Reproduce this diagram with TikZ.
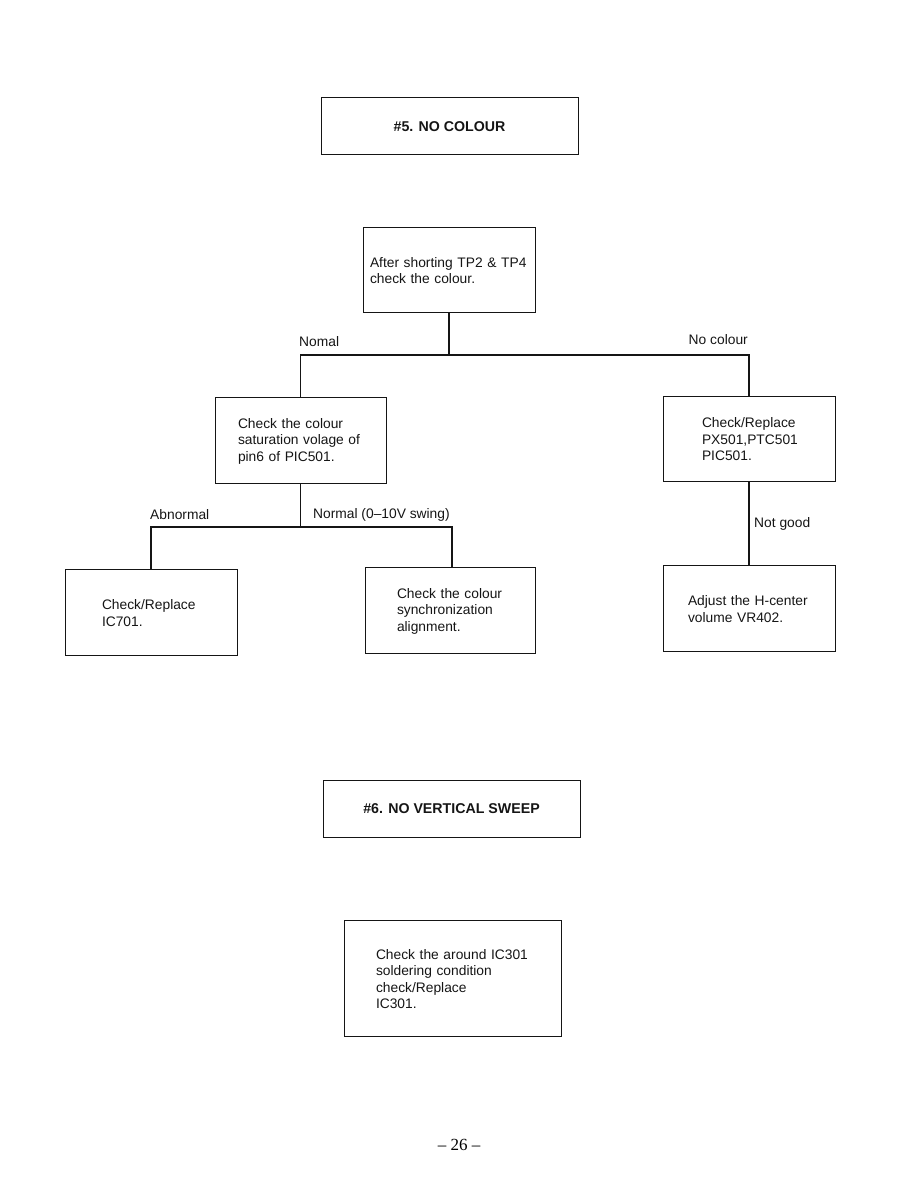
\documentclass[tikz,border=0pt]{standalone}
\usepackage{fontspec}
\setmainfont{Liberation Sans}
\newfontfamily\pagefont[Ligatures=TeX]{Liberation Serif}
\usetikzlibrary{positioning}
\definecolor{ncInk}{HTML}{151515}
\newcommand{\ncbody}{\fontsize{13.8}{16.5}\selectfont}
\tikzset{
  nc title/.style={draw=ncInk, line width=1pt, minimum width=257, minimum height=57, inner sep=0pt, font=\fontsize{14.2}{17}\selectfont\bfseries, text=ncInk},
  nc box/.style={draw=ncInk, line width=1pt, minimum height=86, inner ysep=0pt, align=left, font=\ncbody, text=ncInk},
  nc link/.style={draw=ncInk, line width=1.3pt},
  nc label/.style={inner sep=0pt, font=\ncbody, text=ncInk},
}

\begin{document}
\begin{tikzpicture}[x=1pt, y=1pt]
  \useasboundingbox (0,0) rectangle (918,1188);
  % #5 title
  \node[nc title] (title5) at (449.5,1061.5) {\#5. NO COLOUR};
  % first check
  \node[nc box, minimum height=85, text width=158, inner xsep=7] (tp) at (449,917.5)
    {After shorting TP2 \& TP4\\check the colour.};
  % second row
  \node[nc box, text width=125, inner xsep=23] (sat) at (300.5,747)
    {Check the colour\\saturation volage of\\pin6 of PIC501.};
  \node[nc box, minimum height=85, text width=94, inner xsep=39] (px) at (749,748.5)
    {Check/Replace\\PX501,PTC501\\PIC501.};
  % third row
  \node[nc box, text width=98, inner xsep=37] (ic) at (151,575)
    {Check/Replace\\IC701.};
  \node[nc box, text width=106, inner xsep=32] (sync) at (450,577)
    {Check the colour\\synchronization\\alignment.};
  \node[nc box, text width=122, inner xsep=25] (hc) at (749,579)
    {Adjust the H-center\\volume VR402.};
  % connectors
  \coordinate (splitTp) at (449,833);
  \coordinate (splitSat) at (300.5,661);
  \draw[nc link] (tp.south) -- (splitTp);
  \draw[nc link] (sat.north) |- (splitTp) -| (px.north);
  \draw[nc link] (sat.south) -- (splitSat);
  \draw[nc link] (ic.north) |- (splitSat) -| ([xshift=2pt]sync.north);
  \draw[nc link] (px.south) -- (hc.north);
  % branch labels
  \node[nc label, anchor=west] (nomal) at (299,846) {Nomal};
  \node[nc label, anchor=east] (nocol) at (748,848) {No colour};
  \node[nc label, anchor=west] (abn) at (150,673) {Abnormal};
  \node[nc label, anchor=west] (norm) at (313,673) {Normal (0--10V swing)};
  \node[nc label, anchor=west] (notgood) at (754,664) {Not good};
  % #6 title
  \node[nc title] (title6) at (451.5,379) {\#6. NO VERTICAL SWEEP};
  \node[nc box, minimum width=217, minimum height=116, text width=153, inner xsep=32] (sold) at (452.5,209)
    {Check the around IC301\\soldering condition\\check/Replace\\IC301.};
  % page number
  \node[inner sep=0pt, font=\pagefont\fontsize{17}{20}\selectfont] (page) at (459,43) {-- 26 --};
\end{tikzpicture}
\end{document}
